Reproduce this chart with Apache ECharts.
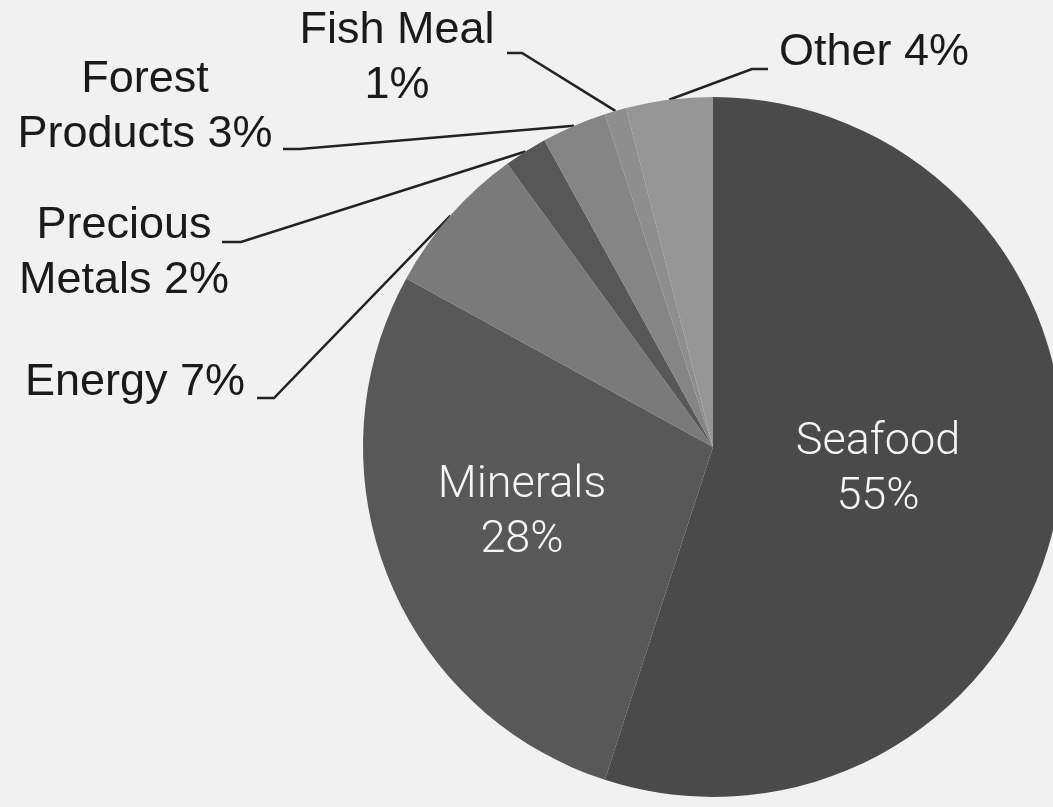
<!DOCTYPE html>
<html>
<head>
<meta charset="utf-8">
<script src="https://cdn.jsdelivr.net/npm/echarts@6/dist/echarts.min.js"></script>
<style>
html,body{margin:0;padding:0;background:#f1f1f1;}
#chart{width:1053px;height:807px;}
</style>
</head>
<body>
<div id="chart"></div>
<script>
// ---- data ----
const categories = ["Seafood", "Minerals", "Energy", "Precious Metals", "Forest Products", "Fish Meal", "Other"];
const values = [55, 28, 7, 2, 3, 1, 4];
const labelTexts = ["Seafood\n55%", "Minerals\n28%", "Energy 7%", "Precious\nMetals 2%", "Forest\nProducts 3%", "Fish Meal\n1%", "Other 4%"];

// ---- styling / layout (not data) ----
const colors = ["#4a4a4a", "#585858", "#7a7a7a", "#575757", "#858585", "#8e8e8e", "#969696"];
const inside = [true, true, false, false, false, false, false];
// label placement: x, y, align, and guide line end / elbow
const labelPlace = [
  { x: 878, y: 470, align: "center" },
  { x: 522, y: 513, align: "center" },
  { x: 245, y: 383, align: "right", end: [257, 398], elbow: [274, 398] },
  { x: 124, y: 253, align: "center", end: [222, 242], elbow: [241, 242] },
  { x: 145, y: 107, align: "center", end: [283, 149], elbow: [300, 149] },
  { x: 397, y: 58, align: "center", end: [507, 53], elbow: [522, 53] },
  { x: 779, y: 53, align: "left", end: [768, 69], elbow: [752, 69] }
];

const chart = echarts.init(document.getElementById('chart'));
const seriesData = categories.map((name, i) => ({
  name: name,
  value: values[i],
  itemStyle: { color: colors[i] },
  label: inside[i] ? {
    position: 'inside',
    color: '#f5f5f5',
    fontFamily: 'Roboto, Lato, sans-serif',
    fontWeight: 300,
    fontSize: 45,
    lineHeight: 55
  } : {
    position: 'outside',
    color: '#1a1a1a',
    fontFamily: '"Liberation Sans", Arial, sans-serif',
    fontSize: 45,
    lineHeight: 55
  },
  labelLine: { show: !inside[i] }
}));

chart.setOption({
  backgroundColor: '#f1f1f1',
  animation: false,
  series: [{
    type: 'pie',
    center: [713, 447],
    radius: 350,
    startAngle: 90,
    clockwise: true,
    avoidLabelOverlap: false,
    data: seriesData,
    label: {
      show: true,
      formatter: (p) => labelTexts[p.dataIndex]
    },
    labelLine: {
      show: true,
      length: 20,
      length2: 20,
      lineStyle: { color: '#222222', width: 2.5 }
    },
    itemStyle: { borderWidth: 0 },
    emphasis: { disabled: true },
    labelLayout: function (params) {
      const lp = labelPlace[params.dataIndex];
      const out = { x: lp.x, y: lp.y, align: lp.align, verticalAlign: 'middle' };
      if (lp.end && params.labelLinePoints) {
        out.labelLinePoints = [params.labelLinePoints[0], lp.elbow, lp.end];
      }
      return out;
    }
  }]
});
</script>
</body>
</html>
